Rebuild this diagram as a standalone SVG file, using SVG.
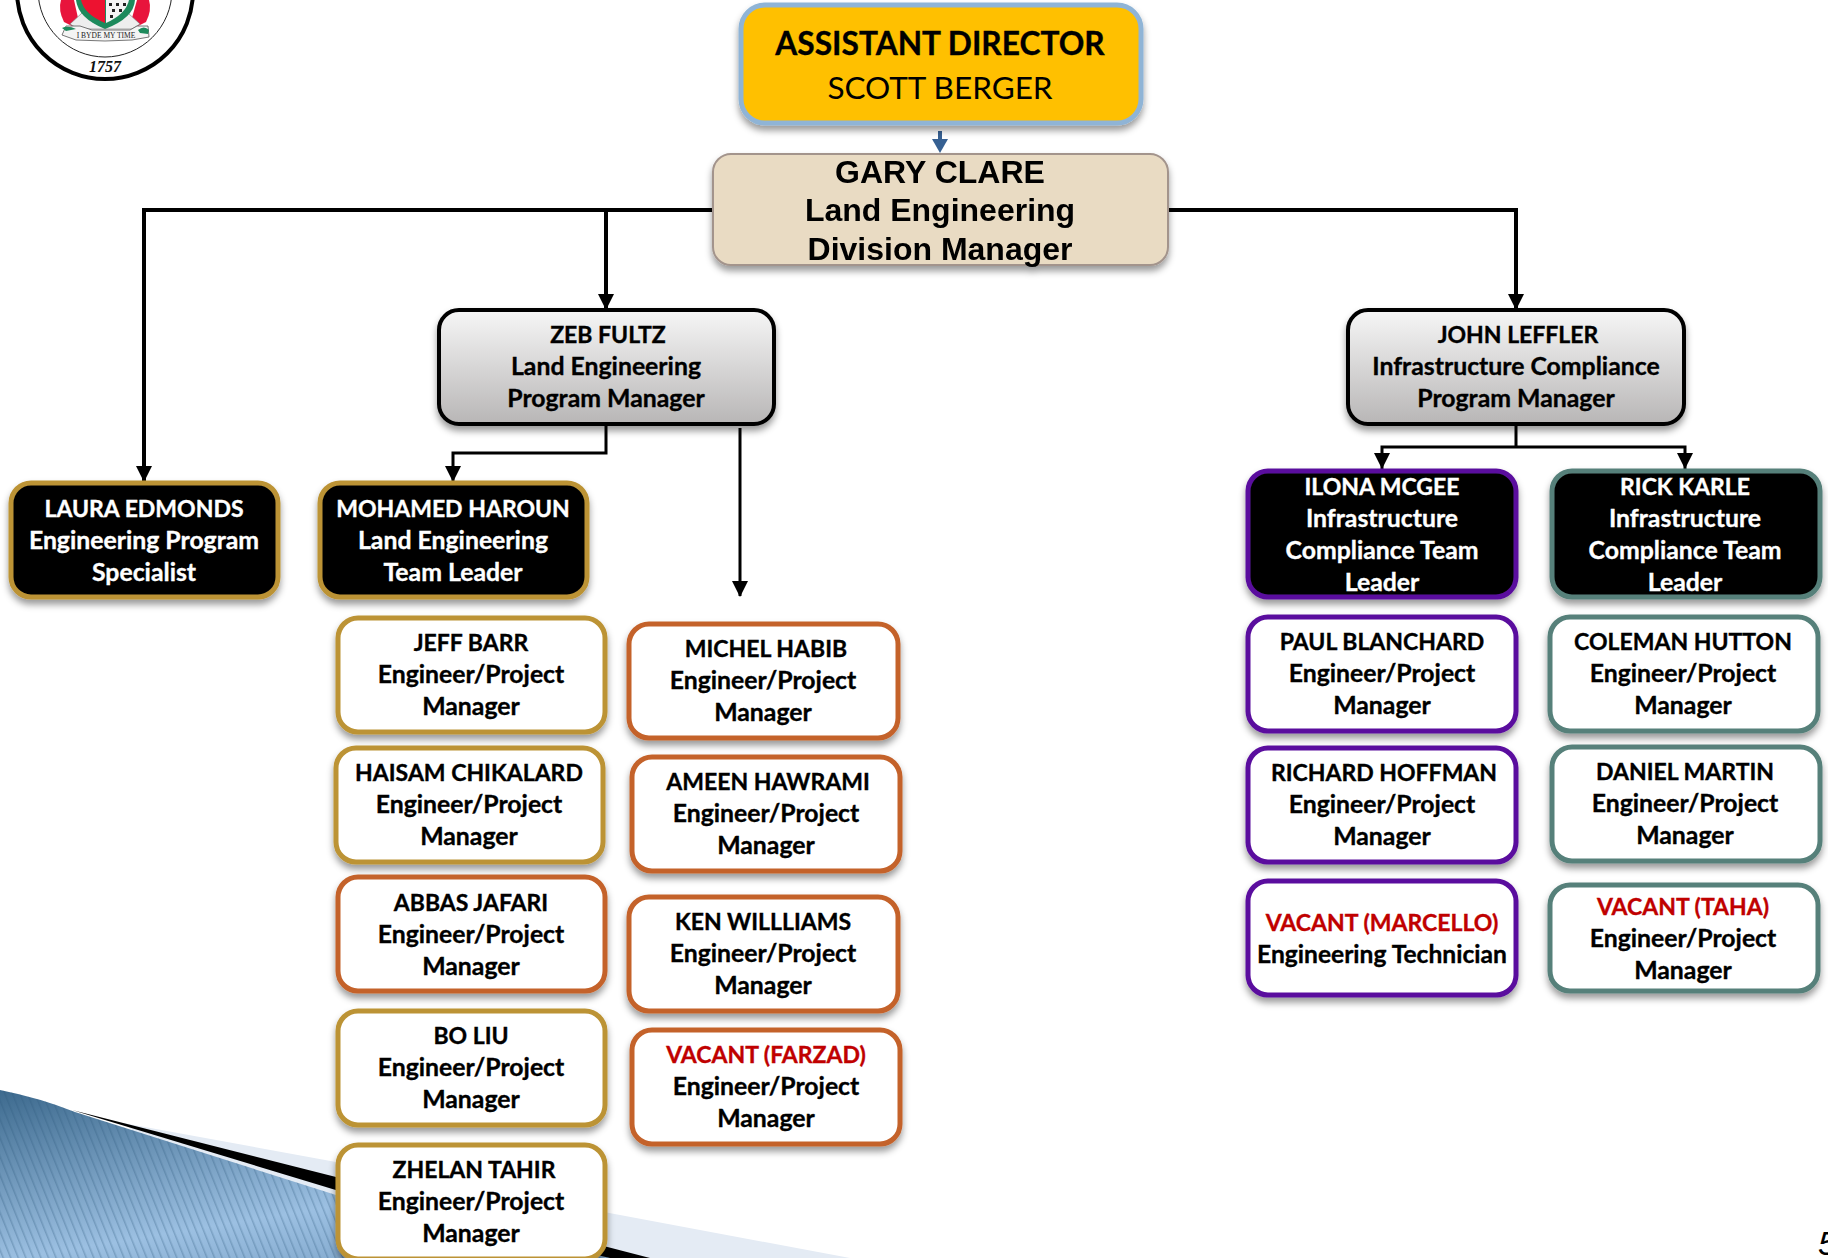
<svg xmlns="http://www.w3.org/2000/svg" width="1828" height="1258" viewBox="0 0 1828 1258">
<style>
.n{font-family:"Lato","Carlito","Liberation Sans",sans-serif;font-weight:700;font-size:23px;text-anchor:middle;fill:#000;stroke:#000;stroke-width:.35}
.l{font-size:24.8px}
.w{fill:#fff;stroke:#fff}
.v{fill:#c00000;stroke:#c00000}
.b{stroke-width:5;fill:#fff}
.k{stroke-width:5;fill:#050505}
.g{stroke:#bc9334}
.o{stroke:#c4622a}
.p{stroke:#5a0f9e}
.t{stroke:#56807a}
.c{fill:none;stroke:#000;stroke-width:4}
.c2{fill:none;stroke:#000;stroke-width:3}
</style>
<defs>
<filter id="s" x="-10%" y="-15%" width="120%" height="135%"><feDropShadow dx="0" dy="5" stdDeviation="3.5" flood-color="#000" flood-opacity=".4"/></filter>
<linearGradient id="gr" x1="0" y1="0" x2="0" y2="1"><stop offset="0" stop-color="#f6f6f6"/><stop offset="1" stop-color="#b8b6b6"/></linearGradient>
<linearGradient id="bl" x1="0" y1="0" x2=".6" y2="1"><stop offset="0" stop-color="#3d6a8e"/><stop offset=".75" stop-color="#9cc0e2"/><stop offset="1" stop-color="#86acd0"/></linearGradient>
<pattern id="st" width="7" height="7" patternUnits="userSpaceOnUse" patternTransform="rotate(-22)"><rect width="1.5" height="7" fill="#2f5a7e" opacity=".3"/></pattern>
<marker id="a" markerUnits="userSpaceOnUse" markerWidth="16" markerHeight="16" refX="15" refY="8" orient="auto"><path d="M0 0L16 8L0 16Z" fill="#000"/></marker>
</defs>

<g id="background">
<path d="M123 1123L336 1162L850 1258H300Z" fill="#e4ebf4"/>
<path d="M72 1110L336 1177L650 1258H560Z" fill="#000"/>
<path d="M0 1090Q40 1098 75 1112L336 1195L610 1258H0Z" fill="url(#bl)"/>
<path d="M0 1090Q40 1098 75 1112L336 1195L610 1258H0Z" fill="url(#st)"/>
</g>

<g id="logo">
<circle cx="105" cy="-9" r="88" fill="#fff" stroke="#000" stroke-width="4"/>
<circle cx="105" cy="-10" r="67" fill="none" stroke="#222" stroke-width="1"/>
<path d="M61 0H74L78 18L72 26L64 22Q58 10 61 0Z" fill="#e8143c"/>
<path d="M149 0H137L132 18L138 26L146 22Q152 10 149 0Z" fill="#e8143c"/>
<path d="M70 24L82 13L128 13L140 24L132 29H78Z" fill="#eee" stroke="#777" stroke-width=".6"/>
<path d="M76 0H135Q134 18 105 29Q78 18 76 0Z" fill="#1d8a5c"/>
<path d="M81 0H105V23Q84 14 81 0Z" fill="#ed1230"/>
<path d="M106 0H129Q126 14 106 23Z" fill="#f4f4f4"/>
<path d="M109 3h3v3h-3zM116 3h3v3h-3zM123 3h3v3h-3zM112 9h3v3h-3zM119 9h3v3h-3zM110 15h3v3h-3z" fill="#222"/>
<path d="M66 26H80L92 30H118L130 30L137 26H148L149 37L132 40L105 41L76 40L62 35Z" fill="#f4f4f4" stroke="#555" stroke-width=".8"/>
<path d="M62 28Q68 25 76 29L66 31ZM138 30Q144 25 149 30L148 34L140 33Z" fill="#1d8a5c"/>
<text x="106" y="38" font-family="Liberation Serif,serif" font-size="7.5" text-anchor="middle" fill="#222">I BYDE MY TIME</text>
<text x="105" y="72" font-family="Liberation Serif,serif" font-size="16" font-weight="700" font-style="italic" text-anchor="middle" fill="#111">1757</text>
</g>

<g id="connectors">
<path class="c" d="M713 210H144V481" marker-end="url(#a)"/>
<path class="c" d="M606 210V309" marker-end="url(#a)"/>
<path class="c" d="M1168 210H1516V309" marker-end="url(#a)"/>
<path class="c2" d="M606 424V453H453V481" marker-end="url(#a)"/>
<path class="c2" d="M740 428V596" marker-end="url(#a)"/>
<path class="c2" d="M1516 424V447M1382 469V447H1685V469"/>
<path d="M1382 469l-8-16h16zM1685 469l-8-16h16z" fill="#000"/>
<path d="M940 131V145" stroke="#366092" stroke-width="4" fill="none"/>
<path d="M932 139h16l-8 14z" fill="#366092"/>
</g>

<g id="assistant-director">
<rect x="741" y="5" width="400" height="118" rx="24" fill="#ffc000" stroke="#8fb4d6" stroke-width="5" filter="url(#s)"/>
<text class="n" x="940" y="55" style="font-size:31.7px">ASSISTANT DIRECTOR</text>
<text class="n" x="940" y="99" style="font-size:31.5px;font-weight:400;stroke:none">SCOTT BERGER</text>
</g>

<g id="gary-clare" filter="url(#s)">
<rect x="713" y="154" width="455" height="111" rx="18" fill="#e9dbc3" stroke="#a3948c" stroke-width="2"/>
<g style="font-family:'Liberation Sans',sans-serif;font-weight:700;font-size:32px" text-anchor="middle">
<text x="940" y="183">GARY CLARE</text>
<text x="940" y="221">Land Engineering</text>
<text x="940" y="260">Division Manager</text>
</g>
</g>

<g id="zeb-fultz">
<rect x="439" y="310" width="335" height="114" rx="20" fill="url(#gr)" stroke="#000" stroke-width="4" filter="url(#s)"/>
<text class="n" x="608" y="343">ZEB FULTZ</text><text class="n l" x="606" y="375">Land Engineering</text><text class="n l" x="606" y="407">Program Manager</text>
</g>
<g id="john-leffler">
<rect x="1348" y="310" width="336" height="114" rx="20" fill="url(#gr)" stroke="#000" stroke-width="4" filter="url(#s)"/>
<text class="n" x="1518" y="343">JOHN LEFFLER</text><text class="n l" x="1516" y="375">Infrastructure Compliance</text><text class="n l" x="1516" y="407">Program Manager</text>
</g>

<g id="laura-edmonds">
<rect class="k g" x="11" y="483" width="267" height="114" rx="20" filter="url(#s)"/>
<text class="n w" x="144" y="517">LAURA EDMONDS</text><text class="n l w" x="144" y="549">Engineering Program</text><text class="n l w" x="144" y="581">Specialist</text>
</g>
<g id="mohamed-haroun">
<rect class="k g" x="320" y="483" width="267" height="114" rx="20" filter="url(#s)"/>
<text class="n w" x="453" y="517">MOHAMED HAROUN</text><text class="n l w" x="453" y="549">Land Engineering</text><text class="n l w" x="453" y="581">Team Leader</text>
</g>

<g id="jeff-barr">
<rect class="b g" x="338" y="618" width="267" height="114" rx="20" filter="url(#s)"/>
<text class="n" x="471" y="651">JEFF BARR</text><text class="n l" x="471" y="683">Engineer/Project</text><text class="n l" x="471" y="715">Manager</text>
</g>
<g id="haisam-chikalard">
<rect class="b g" x="336" y="748" width="267" height="114" rx="20" filter="url(#s)"/>
<text class="n" x="469" y="781">HAISAM CHIKALARD</text><text class="n l" x="469" y="813">Engineer/Project</text><text class="n l" x="469" y="845">Manager</text>
</g>
<g id="abbas-jafari">
<rect class="b o" x="338" y="877" width="267" height="114" rx="20" filter="url(#s)"/>
<text class="n" x="471" y="911">ABBAS JAFARI</text><text class="n l" x="471" y="943">Engineer/Project</text><text class="n l" x="471" y="975">Manager</text>
</g>
<g id="bo-liu">
<rect class="b g" x="338" y="1011" width="267" height="114" rx="20" filter="url(#s)"/>
<text class="n" x="471" y="1044">BO LIU</text><text class="n l" x="471" y="1076">Engineer/Project</text><text class="n l" x="471" y="1108">Manager</text>
</g>
<g id="zhelan-tahir">
<rect class="b g" x="338" y="1145" width="267" height="114" rx="20" filter="url(#s)"/>
<text class="n" x="474" y="1178">ZHELAN TAHIR</text><text class="n l" x="471" y="1210">Engineer/Project</text><text class="n l" x="471" y="1242">Manager</text>
</g>

<g id="michel-habib">
<rect class="b o" x="629" y="624" width="269" height="114" rx="20" filter="url(#s)"/>
<text class="n" x="766" y="657">MICHEL HABIB</text><text class="n l" x="763" y="689">Engineer/Project</text><text class="n l" x="763" y="721">Manager</text>
</g>
<g id="ameen-hawrami">
<rect class="b o" x="632" y="757" width="268" height="114" rx="20" filter="url(#s)"/>
<text class="n" x="768" y="790">AMEEN HAWRAMI</text><text class="n l" x="766" y="822">Engineer/Project</text><text class="n l" x="766" y="854">Manager</text>
</g>
<g id="ken-willliams">
<rect class="b o" x="629" y="897" width="269" height="114" rx="20" filter="url(#s)"/>
<text class="n" x="763" y="930">KEN WILLLIAMS</text><text class="n l" x="763" y="962">Engineer/Project</text><text class="n l" x="763" y="994">Manager</text>
</g>
<g id="vacant-farzad">
<rect class="b o" x="632" y="1030" width="268" height="114" rx="20" filter="url(#s)"/>
<text class="n v" x="766" y="1063">VACANT (FARZAD)</text><text class="n l" x="766" y="1095">Engineer/Project</text><text class="n l" x="766" y="1127">Manager</text>
</g>

<g id="ilona-mcgee">
<rect class="k p" x="1248" y="471" width="268" height="126" rx="20" filter="url(#s)"/>
<text class="n w" x="1382" y="495">ILONA MCGEE</text><text class="n l w" x="1382" y="527">Infrastructure</text><text class="n l w" x="1382" y="559">Compliance Team</text><text class="n l w" x="1382" y="591">Leader</text>
</g>
<g id="rick-karle">
<rect class="k t" x="1552" y="471" width="268" height="126" rx="20" filter="url(#s)"/>
<text class="n w" x="1685" y="495">RICK KARLE</text><text class="n l w" x="1685" y="527">Infrastructure</text><text class="n l w" x="1685" y="559">Compliance Team</text><text class="n l w" x="1685" y="591">Leader</text>
</g>
<g id="paul-blanchard">
<rect class="b p" x="1248" y="617" width="268" height="114" rx="20" filter="url(#s)"/>
<text class="n" x="1382" y="650">PAUL BLANCHARD</text><text class="n l" x="1382" y="682">Engineer/Project</text><text class="n l" x="1382" y="714">Manager</text>
</g>
<g id="richard-hoffman">
<rect class="b p" x="1248" y="748" width="268" height="114" rx="20" filter="url(#s)"/>
<text class="n" x="1384" y="781">RICHARD HOFFMAN</text><text class="n l" x="1382" y="813">Engineer/Project</text><text class="n l" x="1382" y="845">Manager</text>
</g>
<g id="vacant-marcello">
<rect class="b p" x="1248" y="881" width="268" height="114" rx="20" filter="url(#s)"/>
<text class="n v" x="1382" y="931">VACANT (MARCELLO)</text><text class="n l" x="1382" y="963" style="font-size:24.6px">Engineering Technician</text>
</g>
<g id="coleman-hutton">
<rect class="b t" x="1550" y="617" width="268" height="114" rx="20" filter="url(#s)"/>
<text class="n" x="1683" y="650">COLEMAN HUTTON</text><text class="n l" x="1683" y="682">Engineer/Project</text><text class="n l" x="1683" y="714">Manager</text>
</g>
<g id="daniel-martin">
<rect class="b t" x="1552" y="747" width="268" height="114" rx="20" filter="url(#s)"/>
<text class="n" x="1685" y="780">DANIEL MARTIN</text><text class="n l" x="1685" y="812">Engineer/Project</text><text class="n l" x="1685" y="844">Manager</text>
</g>
<g id="vacant-taha">
<rect class="b t" x="1550" y="885" width="268" height="106" rx="20" filter="url(#s)"/>
<text class="n v" x="1683" y="915">VACANT (TAHA)</text><text class="n l" x="1683" y="947">Engineer/Project</text><text class="n l" x="1683" y="979">Manager</text>
</g>

<text id="page-number" x="1818" y="1255" font-family="Liberation Sans,sans-serif" font-style="italic" font-size="34" fill="#000">5</text>
</svg>
